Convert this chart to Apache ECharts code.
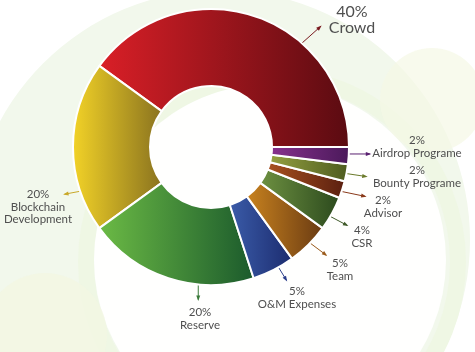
<!DOCTYPE html>
<html>
<head>
<meta charset="utf-8">
<script src="https://cdn.jsdelivr.net/npm/echarts@6/dist/echarts.min.js"></script>
<style>
  html, body { margin: 0; padding: 0; background: #ffffff; }
  #chart { width: 475px; height: 352px; }
</style>
</head>
<body>
<div id="chart"></div>
<script>
// Reparto de tokens: donut con degradados y etiquetas fuera

// datos
const categories = ["Crowd", "Blockchain\nDevelopment", "Reserve", "O&M Expenses", "Team", "CSR", "Advisor", "Bounty Programe", "Airdrop Programe"];
const shares = [40, 20, 20, 5, 5, 4, 2, 2, 2];

// degradado izquierda -> derecha de cada porcion
const colorsFrom = ["#da1f27", "#f3d327", "#6cbb45", "#3b5ca9", "#c9831f", "#6e9141", "#a9521f", "#95a141", "#87318d"];
const colorsTo = ["#5a0b11", "#89721f", "#1b5a2c", "#1b2b6e", "#693a12", "#2b491d", "#5a1f10", "#4d5b1f", "#4a195a"];
const lineColors = ["#7a1a1f", "#c9a92a", "#3b7a3a", "#2c3f8c", "#9a5a1a", "#3f5a2a", "#8a3a1a", "#6a7a2a", "#5a2070"];

// posicion de etiquetas: [x, y, angulo de anclaje, direccion de la flecha, largo]
const labelSpots = [
  [352, 20, 48.8, 41.8, 25],
  [38, 207, 198.7, 190.6, 16],
  [200, 319, 264.7, 270, 15],
  [297, 298, 299.3, 301.6, 15],
  [340, 270, 315.9, 323.1, 20],
  [362, 237, 329.8, 332.1, 19],
  [383, 207, 341.2, 348.2, 24],
  [417, 177, 348.9, 351.5, 20],
  [417, 147, 357.1, 360, 21]
];

const CX = 211, CY = 147, R_IN = 61, R_OUT = 138;
const rad = (d) => (d * Math.PI) / 180;

function linePoints(i) {
  const s = labelSpots[i];
  const x0 = CX + R_OUT * Math.cos(rad(s[2]));
  const y0 = CY - R_OUT * Math.sin(rad(s[2]));
  const x1 = x0 + s[4] * Math.cos(rad(s[3]));
  const y1 = y0 - s[4] * Math.sin(rad(s[3]));
  return [[x0, y0], [x1, y1]];
}

// puntas de flecha al final de cada linea
const arrowHeads = labelSpots.map((s, i) => {
  const end = linePoints(i)[1];
  const a = rad(s[3]);
  const ux = Math.cos(a), uy = -Math.sin(a);
  const px = -uy, py = ux;
  const back = 4, half = 2;
  return {
    type: "polygon",
    z: 10,
    shape: {
      points: [
        [end[0] + ux * 1.5, end[1] + uy * 1.5],
        [end[0] - ux * back + px * half, end[1] - uy * back + py * half],
        [end[0] - ux * back - px * half, end[1] - uy * back - py * half]
      ]
    },
    style: { fill: lineColors[i] }
  };
});

// fondo decorativo (muy suave)
const backdrop = [
  { type: "circle", z: -10, shape: { cx: 220, cy: 240, r: 250 }, style: { fill: "#f2f8ec" } },
  { type: "circle", z: -9, shape: { cx: 272, cy: 262, r: 186 }, style: { fill: "none", stroke: "#eff7e4", lineWidth: 16 } },
  { type: "circle", z: -8, shape: { cx: 270, cy: 260, r: 176 }, style: { fill: "#ffffff", opacity: 0.95 } },
  { type: "circle", z: -7, shape: { cx: 432, cy: 100, r: 52 }, style: { fill: "#f5f8e6", opacity: 0.7 } },
  { type: "circle", z: -7, shape: { cx: 45, cy: 335, r: 62 }, style: { fill: "#f3f6e2", opacity: 0.8 } }
];

const chart = echarts.init(document.getElementById("chart"));

chart.setOption({
  backgroundColor: "#ffffff",
  animation: false,
  graphic: backdrop.concat(arrowHeads),
  series: [
    {
      type: "pie",
      center: [CX, CY],
      radius: [R_IN, R_OUT],
      startAngle: 0,
      clockwise: false,
      itemStyle: { borderColor: "#ffffff", borderWidth: 2 },
      label: {
        formatter: "{c}%\n{b}",
        color: "#4f4f4f",
        fontFamily: "Lato",
        fontSize: 11.5,
        lineHeight: 12.5,
        align: "center",
        overflow: "none"
      },
      labelLine: { show: true, lineStyle: { width: 1 } },
      labelLayout: (params) => {
        const s = labelSpots[params.dataIndex];
        return {
          x: s[0],
          y: s[1],
          align: "center",
          verticalAlign: "middle",
          width: 120,
          labelLinePoints: linePoints(params.dataIndex)
        };
      },
      data: categories.map((name, i) => ({
        name: name,
        value: shares[i],
        itemStyle: {
          color: new echarts.graphic.LinearGradient(0, 0, 1, 0, [
            { offset: 0, color: colorsFrom[i] },
            { offset: 1, color: colorsTo[i] }
          ])
        },
        labelLine: { lineStyle: { color: lineColors[i] } },
        label: i === 0 ? { fontSize: 16, lineHeight: 16 } : {}
      }))
    }
  ]
});
</script>
</body>
</html>
